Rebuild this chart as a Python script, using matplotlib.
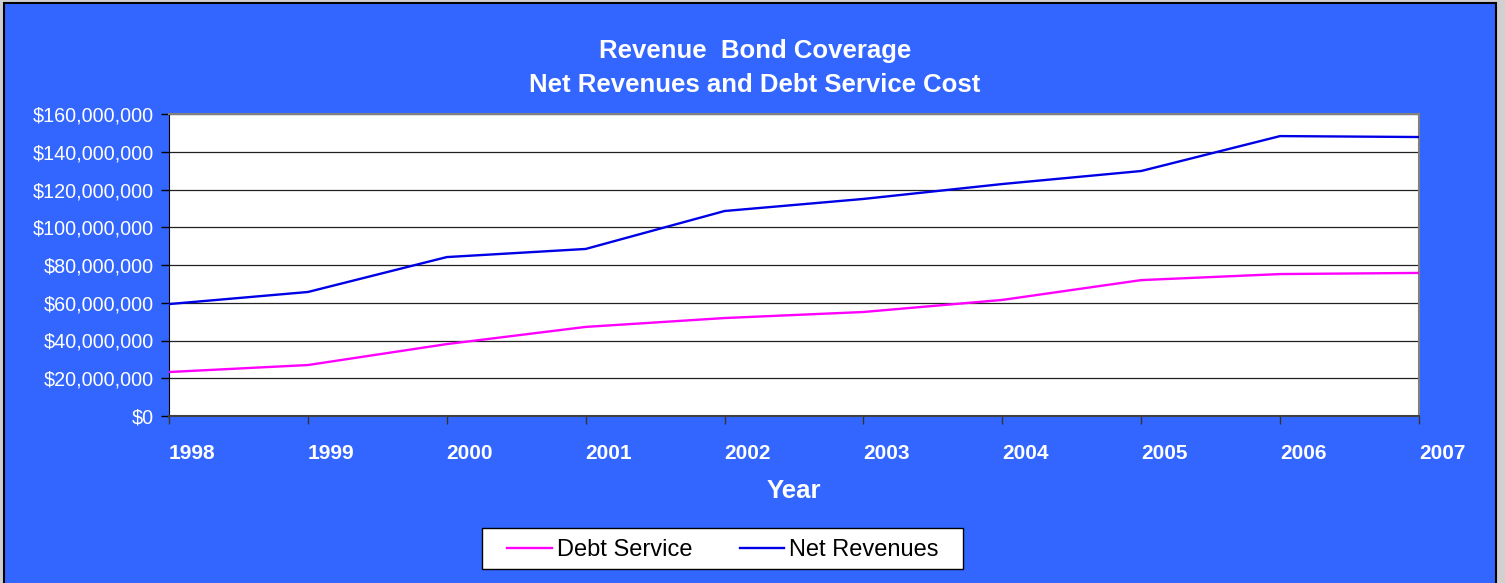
import matplotlib
matplotlib.use("Agg")
import matplotlib.pyplot as plt
import matplotlib.patches as patches
from matplotlib.ticker import FuncFormatter
from matplotlib.transforms import ScaledTranslation

# data
years = [1998, 1999, 2000, 2001, 2002, 2003, 2004, 2005, 2006, 2007]
net_revenues = [59.3e6, 65.7e6, 84.2e6, 88.5e6, 108.6e6, 115.0e6,
                122.9e6, 129.8e6, 148.3e6, 147.8e6]
debt_service = [23.3e6, 27.0e6, 38.1e6, 47.2e6, 51.9e6, 55.1e6,
                61.5e6, 72.0e6, 75.2e6, 75.8e6]
title_lines = ['Revenue  Bond Coverage', 'Net Revenues and Debt Service Cost']

bg_blue = '#3366FF'
plt.rcParams['font.family'] = ['Liberation Sans', 'DejaVu Sans']

fig = plt.figure(figsize=(15.05, 5.83), dpi=100)
fig.patch.set_facecolor('#D0D0D0')

# blue chart area with black border (pixel coords -> figure fractions)
W, H = 1505, 583
chart_bg = patches.Rectangle((4 / W, -0.01), (1496 - 4) / W, 1.01 - 3 / H,
                             transform=fig.transFigure, facecolor=bg_blue,
                             edgecolor='black', linewidth=1.5, zorder=-10)
fig.patches.append(chart_bg)

ax = fig.add_axes([169 / W, (583 - 416) / H, (1419 - 169) / W, (416 - 114) / H])
ax.set_facecolor('white')

ax.plot(years, debt_service, color='#FF00FF', linewidth=1.7, label='Debt Service', zorder=3)
ax.plot(years, net_revenues, color='#0000E6', linewidth=1.7, label='Net Revenues', zorder=3)

ax.set_xlim(1998, 2007)
ax.set_ylim(0, 160e6)
ax.set_yticks(range(0, 160000001, 20000000))
ax.yaxis.set_major_formatter(FuncFormatter(lambda v, p: '${:,.0f}'.format(v)))
ax.set_xticks(years)
ax.set_xticklabels([str(y) for y in years])

ax.grid(axis='y', color='#222222', linewidth=0.9)
ax.set_axisbelow(True)

ax.tick_params(axis='y', direction='out', length=6, width=1, color='black',
               labelsize=14.2, labelcolor='white', pad=5)
ax.tick_params(axis='x', direction='out', length=6, width=1, color='#333333',
               labelsize=15, labelcolor='white', pad=14)
for lbl in ax.get_xticklabels():
    lbl.set_fontweight('bold')
    lbl.set_transform(lbl.get_transform() + ScaledTranslation(0.23, 0, fig.dpi_scale_trans))

for side in ['top', 'right']:
    ax.spines[side].set_color('#808080')
    ax.spines[side].set_linewidth(1.5)
ax.spines['left'].set_color('black')
ax.spines['bottom'].set_color('#404040')
ax.spines['bottom'].set_linewidth(1.5)

ax.set_xlabel('Year', fontsize=18.5, fontweight='bold', color='white')
ax.xaxis.set_label_coords(0.5, -0.207)

for txt, ypx in zip(title_lines, [51, 85]):
    fig.text(755 / W, 1 - ypx / H, txt, ha='center', va='center',
             fontsize=18.5, fontweight='bold', color='white')

# legend box drawn by hand (behind the axes layer) so its padding matches
leg_box = patches.Rectangle((482 / W, 1 - 569 / H), (963 - 482) / W, 41 / H,
                            transform=fig.transFigure, facecolor='white',
                            edgecolor='black', linewidth=1.0, zorder=-5)
fig.patches.append(leg_box)
leg = ax.legend(loc='center', bbox_to_anchor=(723 / W, 1 - 550 / H),
                bbox_transform=fig.transFigure, ncol=2, fontsize=17,
                frameon=False, handlelength=1.9, handletextpad=0.21,
                columnspacing=2.0, borderpad=0.2)

fig.savefig('out.png', dpi=100, facecolor=fig.get_facecolor())
